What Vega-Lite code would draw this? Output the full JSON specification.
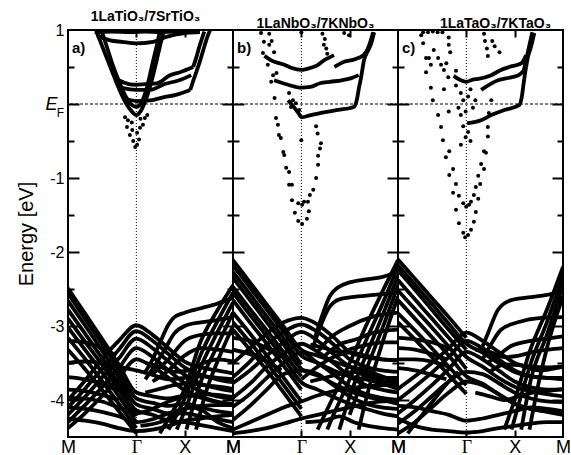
{
"$schema":"https://vega.github.io/schema/vega-lite/v6.json",
"padding":{"left":15,"top":9,"right":0,"bottom":0},
"spacing":0,
"bounds":"flush",
"config":{"view":{"stroke":"black","strokeWidth":2},"axis":{"domain":false,"grid":false,"labelFont":"Liberation Sans","titleFont":"Liberation Sans","labelColor":"black","titleColor":"black","tickColor":"black","tickWidth":2},"title":{"font":"Liberation Sans","fontSize":14,"fontWeight":"bold","color":"black","offset":-2,"anchor":"middle"}},
"data":{"values":[
{"p":"a","b":"F1","k":0,"e":-2.49},{"p":"a","b":"F1","k":0.35,"e":-2.83},{"p":"a","b":"F1","k":0.7,"e":-3.17},{"p":"a","b":"F1","k":1.05,"e":-3.52},{"p":"a","b":"F1","k":1.414,"e":-3.9},{"p":"a","b":"F1","k":1.75,"e":-3.95},{"p":"a","b":"F1","k":2.08,"e":-3.98},{"p":"a","b":"F1","k":2.414,"e":-3.94},{"p":"a","b":"F1","k":2.75,"e":-3.96},{"p":"a","b":"F1","k":3.08,"e":-4.02},{"p":"a","b":"F1","k":3.414,"e":-4.06},
{"p":"a","b":"F2","k":0,"e":-2.56},{"p":"a","b":"F2","k":0.35,"e":-2.9},{"p":"a","b":"F2","k":0.7,"e":-3.24},{"p":"a","b":"F2","k":1.05,"e":-3.6},{"p":"a","b":"F2","k":1.414,"e":-3.98},{"p":"a","b":"F2","k":1.75,"e":-4.04},{"p":"a","b":"F2","k":2.08,"e":-4.08},{"p":"a","b":"F2","k":2.414,"e":-4.05},{"p":"a","b":"F2","k":2.75,"e":-4.1},{"p":"a","b":"F2","k":3.08,"e":-4.15},{"p":"a","b":"F2","k":3.414,"e":-4.18},
{"p":"a","b":"F3","k":0,"e":-2.66},{"p":"a","b":"F3","k":0.35,"e":-2.99},{"p":"a","b":"F3","k":0.7,"e":-3.33},{"p":"a","b":"F3","k":1.05,"e":-3.69},{"p":"a","b":"F3","k":1.414,"e":-4.06},{"p":"a","b":"F3","k":1.75,"e":-4.12},{"p":"a","b":"F3","k":2.08,"e":-4.18},{"p":"a","b":"F3","k":2.414,"e":-4.18},{"p":"a","b":"F3","k":2.75,"e":-4.22},{"p":"a","b":"F3","k":3.08,"e":-4.26},{"p":"a","b":"F3","k":3.414,"e":-4.3},
{"p":"a","b":"F4","k":0,"e":-2.78},{"p":"a","b":"F4","k":0.35,"e":-3.1},{"p":"a","b":"F4","k":0.7,"e":-3.43},{"p":"a","b":"F4","k":1.05,"e":-3.78},{"p":"a","b":"F4","k":1.414,"e":-4.14},{"p":"a","b":"F4","k":1.75,"e":-4.2},{"p":"a","b":"F4","k":2.08,"e":-4.28},{"p":"a","b":"F4","k":2.414,"e":-4.3},{"p":"a","b":"F4","k":2.75,"e":-4.34},{"p":"a","b":"F4","k":3.08,"e":-4.38},{"p":"a","b":"F4","k":3.414,"e":-4.42},
{"p":"a","b":"F5","k":0,"e":-2.9},{"p":"a","b":"F5","k":0.35,"e":-3.21},{"p":"a","b":"F5","k":0.7,"e":-3.52},{"p":"a","b":"F5","k":1.05,"e":-3.86},{"p":"a","b":"F5","k":1.414,"e":-4.22},
{"p":"a","b":"F6","k":0,"e":-3.02},{"p":"a","b":"F6","k":0.35,"e":-3.32},{"p":"a","b":"F6","k":0.7,"e":-3.62},{"p":"a","b":"F6","k":1.05,"e":-3.95},{"p":"a","b":"F6","k":1.414,"e":-4.3},
{"p":"a","b":"F7","k":0,"e":-3.16},{"p":"a","b":"F7","k":0.35,"e":-3.44},{"p":"a","b":"F7","k":0.7,"e":-3.74},{"p":"a","b":"F7","k":1.05,"e":-4.05},{"p":"a","b":"F7","k":1.414,"e":-4.38},
{"p":"a","b":"F8","k":0,"e":-3.32},{"p":"a","b":"F8","k":0.35,"e":-3.58},{"p":"a","b":"F8","k":0.7,"e":-3.86},{"p":"a","b":"F8","k":1.05,"e":-4.15},{"p":"a","b":"F8","k":1.414,"e":-4.45},
{"p":"a","b":"P1","k":0,"e":-4.0},{"p":"a","b":"P1","k":0.35,"e":-3.74},{"p":"a","b":"P1","k":0.7,"e":-3.45},{"p":"a","b":"P1","k":1.05,"e":-3.2},{"p":"a","b":"P1","k":1.414,"e":-2.99},{"p":"a","b":"P1","k":1.75,"e":-3.12},{"p":"a","b":"P1","k":2.08,"e":-3.3},{"p":"a","b":"P1","k":2.414,"e":-3.48},{"p":"a","b":"P1","k":2.75,"e":-3.56},{"p":"a","b":"P1","k":3.08,"e":-3.6},{"p":"a","b":"P1","k":3.414,"e":-3.64},
{"p":"a","b":"P2","k":0,"e":-4.1},{"p":"a","b":"P2","k":0.35,"e":-3.85},{"p":"a","b":"P2","k":0.7,"e":-3.58},{"p":"a","b":"P2","k":1.05,"e":-3.32},{"p":"a","b":"P2","k":1.414,"e":-3.07},{"p":"a","b":"P2","k":1.75,"e":-3.2},{"p":"a","b":"P2","k":2.08,"e":-3.38},{"p":"a","b":"P2","k":2.414,"e":-3.56},{"p":"a","b":"P2","k":2.75,"e":-3.66},{"p":"a","b":"P2","k":3.08,"e":-3.72},{"p":"a","b":"P2","k":3.414,"e":-3.76},
{"p":"a","b":"P3","k":0,"e":-4.2},{"p":"a","b":"P3","k":0.35,"e":-3.96},{"p":"a","b":"P3","k":0.7,"e":-3.7},{"p":"a","b":"P3","k":1.05,"e":-3.44},{"p":"a","b":"P3","k":1.414,"e":-3.17},{"p":"a","b":"P3","k":1.75,"e":-3.3},{"p":"a","b":"P3","k":2.08,"e":-3.48},{"p":"a","b":"P3","k":2.414,"e":-3.66},{"p":"a","b":"P3","k":2.75,"e":-3.78},{"p":"a","b":"P3","k":3.08,"e":-3.84},{"p":"a","b":"P3","k":3.414,"e":-3.88},
{"p":"a","b":"P4","k":0,"e":-4.3},{"p":"a","b":"P4","k":0.35,"e":-4.07},{"p":"a","b":"P4","k":0.7,"e":-3.83},{"p":"a","b":"P4","k":1.05,"e":-3.57},{"p":"a","b":"P4","k":1.414,"e":-3.3},{"p":"a","b":"P4","k":1.75,"e":-3.42},{"p":"a","b":"P4","k":2.08,"e":-3.6},{"p":"a","b":"P4","k":2.414,"e":-3.77},{"p":"a","b":"P4","k":2.75,"e":-3.88},{"p":"a","b":"P4","k":3.08,"e":-3.95},{"p":"a","b":"P4","k":3.414,"e":-3.98},
{"p":"a","b":"P5","k":0,"e":-4.38},{"p":"a","b":"P5","k":0.35,"e":-4.18},{"p":"a","b":"P5","k":0.7,"e":-3.95},{"p":"a","b":"P5","k":1.05,"e":-3.7},{"p":"a","b":"P5","k":1.414,"e":-3.45},{"p":"a","b":"P5","k":1.75,"e":-3.55},{"p":"a","b":"P5","k":2.08,"e":-3.7},{"p":"a","b":"P5","k":2.414,"e":-3.87},{"p":"a","b":"P5","k":2.75,"e":-3.97},{"p":"a","b":"P5","k":3.08,"e":-4.03},{"p":"a","b":"P5","k":3.414,"e":-4.06},
{"p":"a","b":"R1","k":1.6,"e":-3.62},{"p":"a","b":"R1","k":1.75,"e":-3.45},{"p":"a","b":"R1","k":1.9,"e":-3.23},{"p":"a","b":"R1","k":2.08,"e":-2.98},{"p":"a","b":"R1","k":2.2,"e":-2.88},{"p":"a","b":"R1","k":2.414,"e":-2.82},{"p":"a","b":"R1","k":2.75,"e":-2.76},{"p":"a","b":"R1","k":3.08,"e":-2.7},{"p":"a","b":"R1","k":3.414,"e":-2.62},
{"p":"a","b":"R2","k":1.6,"e":-3.72},{"p":"a","b":"R2","k":1.75,"e":-3.58},{"p":"a","b":"R2","k":2.0,"e":-3.32},{"p":"a","b":"R2","k":2.2,"e":-3.1},{"p":"a","b":"R2","k":2.414,"e":-3.0},{"p":"a","b":"R2","k":2.75,"e":-2.95},{"p":"a","b":"R2","k":3.08,"e":-2.92},{"p":"a","b":"R2","k":3.414,"e":-2.88},
{"p":"a","b":"R3","k":1.75,"e":-3.65},{"p":"a","b":"R3","k":2.08,"e":-3.45},{"p":"a","b":"R3","k":2.414,"e":-3.2},{"p":"a","b":"R3","k":2.75,"e":-3.12},{"p":"a","b":"R3","k":3.08,"e":-3.1},{"p":"a","b":"R3","k":3.414,"e":-3.1},
{"p":"a","b":"R4","k":1.75,"e":-3.75},{"p":"a","b":"R4","k":2.08,"e":-3.6},{"p":"a","b":"R4","k":2.414,"e":-3.4},{"p":"a","b":"R4","k":2.75,"e":-3.3},{"p":"a","b":"R4","k":3.08,"e":-3.32},{"p":"a","b":"R4","k":3.414,"e":-3.35},
{"p":"a","b":"S1","k":1.9,"e":-4.45},{"p":"a","b":"S1","k":2.08,"e":-4.25},{"p":"a","b":"S1","k":2.414,"e":-3.85},{"p":"a","b":"S1","k":2.75,"e":-3.2},{"p":"a","b":"S1","k":3.08,"e":-2.8},{"p":"a","b":"S1","k":3.414,"e":-2.45},
{"p":"a","b":"S2","k":2.08,"e":-4.4},{"p":"a","b":"S2","k":2.414,"e":-3.98},{"p":"a","b":"S2","k":2.75,"e":-3.38},{"p":"a","b":"S2","k":3.08,"e":-2.95},{"p":"a","b":"S2","k":3.414,"e":-2.55},
{"p":"a","b":"S3","k":2.25,"e":-4.4},{"p":"a","b":"S3","k":2.414,"e":-4.15},{"p":"a","b":"S3","k":2.75,"e":-3.55},{"p":"a","b":"S3","k":3.08,"e":-3.1},{"p":"a","b":"S3","k":3.414,"e":-2.68},
{"p":"a","b":"S4","k":2.45,"e":-4.4},{"p":"a","b":"S4","k":2.75,"e":-3.75},{"p":"a","b":"S4","k":3.08,"e":-3.28},{"p":"a","b":"S4","k":3.414,"e":-2.82},
{"p":"a","b":"S5","k":2.65,"e":-4.4},{"p":"a","b":"S5","k":2.85,"e":-3.9},{"p":"a","b":"S5","k":3.08,"e":-3.5},{"p":"a","b":"S5","k":3.414,"e":-3.0},
{"p":"a","b":"B1","k":0,"e":-3.97},{"p":"a","b":"B1","k":0.35,"e":-3.98},{"p":"a","b":"B1","k":0.7,"e":-4.02},{"p":"a","b":"B1","k":1.05,"e":-4.1},{"p":"a","b":"B1","k":1.414,"e":-4.18},{"p":"a","b":"B1","k":1.75,"e":-4.12},{"p":"a","b":"B1","k":2.08,"e":-4.02},{"p":"a","b":"B1","k":2.414,"e":-3.95},{"p":"a","b":"B1","k":2.75,"e":-3.92},{"p":"a","b":"B1","k":3.08,"e":-3.93},{"p":"a","b":"B1","k":3.414,"e":-3.96},
{"p":"a","b":"B2","k":0,"e":-4.1},{"p":"a","b":"B2","k":0.35,"e":-4.12},{"p":"a","b":"B2","k":0.7,"e":-4.16},{"p":"a","b":"B2","k":1.05,"e":-4.22},{"p":"a","b":"B2","k":1.414,"e":-4.3},{"p":"a","b":"B2","k":1.75,"e":-4.26},{"p":"a","b":"B2","k":2.08,"e":-4.18},{"p":"a","b":"B2","k":2.414,"e":-4.12},{"p":"a","b":"B2","k":2.75,"e":-4.08},{"p":"a","b":"B2","k":3.08,"e":-4.07},{"p":"a","b":"B2","k":3.414,"e":-4.07},
{"p":"a","b":"B3","k":0,"e":-4.25},{"p":"a","b":"B3","k":0.35,"e":-4.28},{"p":"a","b":"B3","k":0.7,"e":-4.32},{"p":"a","b":"B3","k":1.05,"e":-4.38},{"p":"a","b":"B3","k":1.414,"e":-4.42},{"p":"a","b":"B3","k":1.75,"e":-4.4},{"p":"a","b":"B3","k":2.08,"e":-4.35},{"p":"a","b":"B3","k":2.414,"e":-4.28},{"p":"a","b":"B3","k":2.75,"e":-4.25},{"p":"a","b":"B3","k":3.08,"e":-4.22},{"p":"a","b":"B3","k":3.414,"e":-4.2},
{"p":"a","b":"Q1","k":0,"e":-3.5},{"p":"a","b":"Q1","k":0.35,"e":-3.48},{"p":"a","b":"Q1","k":0.7,"e":-3.5},{"p":"a","b":"Q1","k":1.05,"e":-3.55},{"p":"a","b":"Q1","k":1.414,"e":-3.6},{"p":"a","b":"Q1","k":1.75,"e":-3.66},{"p":"a","b":"Q1","k":2.08,"e":-3.72},{"p":"a","b":"Q1","k":2.414,"e":-3.7},{"p":"a","b":"Q1","k":2.75,"e":-3.68},{"p":"a","b":"Q1","k":3.08,"e":-3.7},{"p":"a","b":"Q1","k":3.414,"e":-3.72},
{"p":"a","b":"Q2","k":0,"e":-3.69},{"p":"a","b":"Q2","k":0.35,"e":-3.72},{"p":"a","b":"Q2","k":0.7,"e":-3.78},{"p":"a","b":"Q2","k":1.05,"e":-3.88},
{"p":"a","b":"Q3","k":0,"e":-3.86},{"p":"a","b":"Q3","k":0.35,"e":-3.88},{"p":"a","b":"Q3","k":0.7,"e":-3.93},{"p":"a","b":"Q3","k":1.05,"e":-4.0},
{"p":"a","b":"W1","k":1.6,"e":-3.5},{"p":"a","b":"W1","k":1.9,"e":-3.55},{"p":"a","b":"W1","k":2.2,"e":-3.62},{"p":"a","b":"W1","k":2.5,"e":-3.6},{"p":"a","b":"W1","k":2.8,"e":-3.5},{"p":"a","b":"W1","k":3.1,"e":-3.45},{"p":"a","b":"W1","k":3.414,"e":-3.48},
{"p":"a","b":"W2","k":1.6,"e":-3.9},{"p":"a","b":"W2","k":1.9,"e":-3.85},{"p":"a","b":"W2","k":2.2,"e":-3.8},{"p":"a","b":"W2","k":2.5,"e":-3.78},{"p":"a","b":"W2","k":2.8,"e":-3.8},{"p":"a","b":"W2","k":3.1,"e":-3.82},{"p":"a","b":"W2","k":3.414,"e":-3.85},
{"p":"a","b":"W3","k":1.5,"e":-4.35},{"p":"a","b":"W3","k":1.9,"e":-4.3},{"p":"a","b":"W3","k":2.2,"e":-4.22},{"p":"a","b":"W3","k":2.5,"e":-4.1},{"p":"a","b":"W3","k":2.8,"e":-4.15},{"p":"a","b":"W3","k":3.1,"e":-4.3},{"p":"a","b":"W3","k":3.414,"e":-4.38},
{"p":"a","b":"L1","k":0,"e":-3.2},{"p":"a","b":"L1","k":0.35,"e":-3.22},{"p":"a","b":"L1","k":0.7,"e":-3.3},{"p":"a","b":"L1","k":1.0,"e":-3.4},
{"p":"a","b":"C0","k":0.55,"e":0.97},{"p":"a","b":"C0","k":0.9,"e":0.98},{"p":"a","b":"C0","k":1.3,"e":0.97},{"p":"a","b":"C0","k":1.6,"e":0.98},{"p":"a","b":"C0","k":1.9,"e":0.97},{"p":"a","b":"C0","k":2.2,"e":0.98},{"p":"a","b":"C0","k":2.5,"e":0.98},
{"p":"a","b":"C1","k":0.6,"e":0.93},{"p":"a","b":"C1","k":0.87,"e":0.86},{"p":"a","b":"C1","k":1.12,"e":0.84},{"p":"a","b":"C1","k":1.414,"e":0.82},{"p":"a","b":"C1","k":1.76,"e":0.84},{"p":"a","b":"C1","k":2.05,"e":0.91},{"p":"a","b":"C1","k":2.46,"e":0.96},{"p":"a","b":"C1","k":2.73,"e":0.97},
{"p":"a","b":"V1","k":0.6,"e":0.96},{"p":"a","b":"V1","k":0.72,"e":0.76},{"p":"a","b":"V1","k":0.84,"e":0.56},{"p":"a","b":"V1","k":0.96,"e":0.36},{"p":"a","b":"V1","k":1.08,"e":0.17},{"p":"a","b":"V1","k":1.2,"e":0.01},{"p":"a","b":"V1","k":1.32,"e":-0.1},{"p":"a","b":"V1","k":1.414,"e":-0.15},{"p":"a","b":"V1","k":1.5,"e":-0.1},{"p":"a","b":"V1","k":1.6,"e":0.04},{"p":"a","b":"V1","k":1.7,"e":0.24},{"p":"a","b":"V1","k":1.78,"e":0.44},{"p":"a","b":"V1","k":1.86,"e":0.66},{"p":"a","b":"V1","k":1.94,"e":0.88},{"p":"a","b":"V1","k":1.99,"e":1.0},
{"p":"a","b":"V2","k":0.7,"e":0.98},{"p":"a","b":"V2","k":0.82,"e":0.74},{"p":"a","b":"V2","k":0.94,"e":0.5},{"p":"a","b":"V2","k":1.06,"e":0.3},{"p":"a","b":"V2","k":1.18,"e":0.12},{"p":"a","b":"V2","k":1.3,"e":0.0},{"p":"a","b":"V2","k":1.414,"e":-0.04},{"p":"a","b":"V2","k":1.52,"e":0.02},{"p":"a","b":"V2","k":1.6,"e":0.15},{"p":"a","b":"V2","k":1.68,"e":0.35},{"p":"a","b":"V2","k":1.76,"e":0.58},{"p":"a","b":"V2","k":1.84,"e":0.8},{"p":"a","b":"V2","k":1.9,"e":0.98},
{"p":"a","b":"C4","k":1.05,"e":0.32},{"p":"a","b":"C4","k":1.25,"e":0.27},{"p":"a","b":"C4","k":1.414,"e":0.26},{"p":"a","b":"C4","k":1.6,"e":0.27},{"p":"a","b":"C4","k":1.84,"e":0.28},{"p":"a","b":"C4","k":2.11,"e":0.39},{"p":"a","b":"C4","k":2.32,"e":0.43},{"p":"a","b":"C4","k":2.59,"e":0.5},
{"p":"a","b":"C5","k":1.1,"e":0.22},{"p":"a","b":"C5","k":1.414,"e":0.19},{"p":"a","b":"C5","k":1.7,"e":0.19},{"p":"a","b":"C5","k":2.0,"e":0.27},{"p":"a","b":"C5","k":2.3,"e":0.32},{"p":"a","b":"C5","k":2.55,"e":0.39},
{"p":"a","b":"C6","k":1.15,"e":0.08},{"p":"a","b":"C6","k":1.414,"e":0.04},{"p":"a","b":"C6","k":1.7,"e":0.05},{"p":"a","b":"C6","k":1.97,"e":0.09},{"p":"a","b":"C6","k":2.21,"e":0.12},{"p":"a","b":"C6","k":2.53,"e":0.19},
{"p":"a","b":"C7","k":2.53,"e":0.19},{"p":"a","b":"C7","k":2.6,"e":0.33},{"p":"a","b":"C7","k":2.67,"e":0.46},{"p":"a","b":"C7","k":2.74,"e":0.6},{"p":"a","b":"C7","k":2.8,"e":0.73},{"p":"a","b":"C7","k":2.88,"e":0.9},{"p":"a","b":"C7","k":2.94,"e":1.0},
{"p":"a","b":"C8","k":2.59,"e":0.5},{"p":"a","b":"C8","k":2.66,"e":0.64},{"p":"a","b":"C8","k":2.72,"e":0.78},{"p":"a","b":"C8","k":2.78,"e":0.9},{"p":"a","b":"C8","k":2.82,"e":0.98},
{"p":"a","b":"d","k":1.18,"e":-0.18},{"p":"a","b":"d","k":1.24,"e":-0.22},{"p":"a","b":"d","k":1.22,"e":-0.31},{"p":"a","b":"d","k":1.33,"e":-0.35},{"p":"a","b":"d","k":1.28,"e":-0.42},{"p":"a","b":"d","k":1.43,"e":-0.39},{"p":"a","b":"d","k":1.49,"e":-0.32},{"p":"a","b":"d","k":1.55,"e":-0.28},{"p":"a","b":"d","k":1.59,"e":-0.19},{"p":"a","b":"d","k":1.64,"e":-0.15},{"p":"a","b":"d","k":1.43,"e":-0.55},{"p":"a","b":"d","k":1.39,"e":-0.58},{"p":"a","b":"d","k":1.35,"e":-0.5},{"p":"a","b":"d","k":1.47,"e":-0.48},{"p":"a","b":"d","k":1.32,"e":-0.25},{"p":"a","b":"d","k":1.5,"e":-0.2},
{"p":"b","b":"F1","k":0,"e":-2.11},{"p":"b","b":"F1","k":0.35,"e":-2.41},{"p":"b","b":"F1","k":0.7,"e":-2.71},{"p":"b","b":"F1","k":1.05,"e":-3.01},{"p":"b","b":"F1","k":1.414,"e":-3.32},{"p":"b","b":"F1","k":1.75,"e":-3.4},{"p":"b","b":"F1","k":2.08,"e":-3.48},{"p":"b","b":"F1","k":2.414,"e":-3.55},{"p":"b","b":"F1","k":2.75,"e":-3.6},{"p":"b","b":"F1","k":3.08,"e":-3.68},{"p":"b","b":"F1","k":3.414,"e":-3.75},
{"p":"b","b":"F2","k":0,"e":-2.18},{"p":"b","b":"F2","k":0.35,"e":-2.48},{"p":"b","b":"F2","k":0.7,"e":-2.78},{"p":"b","b":"F2","k":1.05,"e":-3.08},{"p":"b","b":"F2","k":1.414,"e":-3.4},{"p":"b","b":"F2","k":1.75,"e":-3.5},{"p":"b","b":"F2","k":2.08,"e":-3.6},{"p":"b","b":"F2","k":2.414,"e":-3.68},{"p":"b","b":"F2","k":2.75,"e":-3.72},{"p":"b","b":"F2","k":3.08,"e":-3.78},{"p":"b","b":"F2","k":3.414,"e":-3.85},
{"p":"b","b":"F3","k":0,"e":-2.27},{"p":"b","b":"F3","k":0.35,"e":-2.57},{"p":"b","b":"F3","k":0.7,"e":-2.87},{"p":"b","b":"F3","k":1.05,"e":-3.17},{"p":"b","b":"F3","k":1.414,"e":-3.52},
{"p":"b","b":"F4","k":0,"e":-2.35},{"p":"b","b":"F4","k":0.35,"e":-2.65},{"p":"b","b":"F4","k":0.7,"e":-2.95},{"p":"b","b":"F4","k":1.05,"e":-3.25},{"p":"b","b":"F4","k":1.414,"e":-3.58},{"p":"b","b":"F4","k":1.75,"e":-3.67},{"p":"b","b":"F4","k":2.08,"e":-3.78},{"p":"b","b":"F4","k":2.414,"e":-3.88},{"p":"b","b":"F4","k":2.75,"e":-3.95},{"p":"b","b":"F4","k":3.08,"e":-4.0},{"p":"b","b":"F4","k":3.414,"e":-4.05},
{"p":"b","b":"F5","k":0,"e":-2.47},{"p":"b","b":"F5","k":0.35,"e":-2.77},{"p":"b","b":"F5","k":0.7,"e":-3.06},{"p":"b","b":"F5","k":1.05,"e":-3.36},{"p":"b","b":"F5","k":1.414,"e":-3.68},
{"p":"b","b":"F6","k":0,"e":-2.55},{"p":"b","b":"F6","k":0.35,"e":-2.85},{"p":"b","b":"F6","k":0.7,"e":-3.14},{"p":"b","b":"F6","k":1.05,"e":-3.44},{"p":"b","b":"F6","k":1.414,"e":-3.76},{"p":"b","b":"F6","k":1.75,"e":-3.86},{"p":"b","b":"F6","k":2.08,"e":-3.96},{"p":"b","b":"F6","k":2.414,"e":-4.05},{"p":"b","b":"F6","k":2.75,"e":-4.12},{"p":"b","b":"F6","k":3.08,"e":-4.18},{"p":"b","b":"F6","k":3.414,"e":-4.22},
{"p":"b","b":"F7","k":0,"e":-2.65},{"p":"b","b":"F7","k":0.35,"e":-2.95},{"p":"b","b":"F7","k":0.7,"e":-3.24},{"p":"b","b":"F7","k":1.05,"e":-3.54},{"p":"b","b":"F7","k":1.414,"e":-3.86},
{"p":"b","b":"F8","k":0,"e":-2.82},{"p":"b","b":"F8","k":0.35,"e":-3.1},{"p":"b","b":"F8","k":0.7,"e":-3.4},{"p":"b","b":"F8","k":1.05,"e":-3.7},{"p":"b","b":"F8","k":1.414,"e":-4.02},
{"p":"b","b":"F9","k":0,"e":-2.95},{"p":"b","b":"F9","k":0.35,"e":-3.22},{"p":"b","b":"F9","k":0.7,"e":-3.5},{"p":"b","b":"F9","k":1.05,"e":-3.8},{"p":"b","b":"F9","k":1.414,"e":-4.12},
{"p":"b","b":"F10","k":0,"e":-3.05},{"p":"b","b":"F10","k":0.35,"e":-3.32},{"p":"b","b":"F10","k":0.7,"e":-3.6},{"p":"b","b":"F10","k":1.05,"e":-3.9},{"p":"b","b":"F10","k":1.414,"e":-4.22},
{"p":"b","b":"P1","k":0,"e":-3.5},{"p":"b","b":"P1","k":0.35,"e":-3.3},{"p":"b","b":"P1","k":0.7,"e":-3.1},{"p":"b","b":"P1","k":1.05,"e":-2.95},{"p":"b","b":"P1","k":1.414,"e":-2.89},{"p":"b","b":"P1","k":1.75,"e":-2.98},{"p":"b","b":"P1","k":2.08,"e":-3.15},{"p":"b","b":"P1","k":2.414,"e":-3.35},{"p":"b","b":"P1","k":2.75,"e":-3.42},{"p":"b","b":"P1","k":3.08,"e":-3.45},{"p":"b","b":"P1","k":3.414,"e":-3.46},
{"p":"b","b":"P2","k":0,"e":-3.69},{"p":"b","b":"P2","k":0.35,"e":-3.48},{"p":"b","b":"P2","k":0.7,"e":-3.25},{"p":"b","b":"P2","k":1.05,"e":-3.08},{"p":"b","b":"P2","k":1.414,"e":-2.98},{"p":"b","b":"P2","k":1.75,"e":-3.08},{"p":"b","b":"P2","k":2.08,"e":-3.25},{"p":"b","b":"P2","k":2.414,"e":-3.45},{"p":"b","b":"P2","k":2.75,"e":-3.55},{"p":"b","b":"P2","k":3.08,"e":-3.6},{"p":"b","b":"P2","k":3.414,"e":-3.62},
{"p":"b","b":"P3","k":0,"e":-3.77},{"p":"b","b":"P3","k":0.35,"e":-3.6},{"p":"b","b":"P3","k":0.7,"e":-3.4},{"p":"b","b":"P3","k":1.05,"e":-3.22},{"p":"b","b":"P3","k":1.414,"e":-3.08},{"p":"b","b":"P3","k":1.75,"e":-3.2},{"p":"b","b":"P3","k":2.08,"e":-3.38},{"p":"b","b":"P3","k":2.414,"e":-3.55},{"p":"b","b":"P3","k":2.75,"e":-3.68},{"p":"b","b":"P3","k":3.08,"e":-3.74},{"p":"b","b":"P3","k":3.414,"e":-3.77},
{"p":"b","b":"P4","k":0,"e":-3.97},{"p":"b","b":"P4","k":0.35,"e":-3.78},{"p":"b","b":"P4","k":0.7,"e":-3.55},{"p":"b","b":"P4","k":1.05,"e":-3.37},{"p":"b","b":"P4","k":1.414,"e":-3.24},{"p":"b","b":"P4","k":1.75,"e":-3.35},{"p":"b","b":"P4","k":2.08,"e":-3.5},{"p":"b","b":"P4","k":2.414,"e":-3.68},{"p":"b","b":"P4","k":2.75,"e":-3.8},{"p":"b","b":"P4","k":3.08,"e":-3.86},{"p":"b","b":"P4","k":3.414,"e":-3.9},
{"p":"b","b":"P5","k":0,"e":-4.09},{"p":"b","b":"P5","k":0.35,"e":-3.92},{"p":"b","b":"P5","k":0.7,"e":-3.7},{"p":"b","b":"P5","k":1.05,"e":-3.5},{"p":"b","b":"P5","k":1.414,"e":-3.36},{"p":"b","b":"P5","k":1.75,"e":-3.5},{"p":"b","b":"P5","k":2.08,"e":-3.65},{"p":"b","b":"P5","k":2.414,"e":-3.82},{"p":"b","b":"P5","k":2.75,"e":-3.92},{"p":"b","b":"P5","k":3.08,"e":-3.97},{"p":"b","b":"P5","k":3.414,"e":-4.0},
{"p":"b","b":"P6","k":0,"e":-4.27},{"p":"b","b":"P6","k":0.35,"e":-4.08},{"p":"b","b":"P6","k":0.7,"e":-3.86},{"p":"b","b":"P6","k":1.05,"e":-3.65},{"p":"b","b":"P6","k":1.414,"e":-3.6},{"p":"b","b":"P6","k":1.75,"e":-3.65},{"p":"b","b":"P6","k":2.08,"e":-3.8},{"p":"b","b":"P6","k":2.414,"e":-3.95},{"p":"b","b":"P6","k":2.75,"e":-4.05},{"p":"b","b":"P6","k":3.08,"e":-4.1},{"p":"b","b":"P6","k":3.414,"e":-4.12},
{"p":"b","b":"R1","k":1.7,"e":-3.15},{"p":"b","b":"R1","k":1.85,"e":-2.85},{"p":"b","b":"R1","k":2.0,"e":-2.6},{"p":"b","b":"R1","k":2.17,"e":-2.48},{"p":"b","b":"R1","k":2.414,"e":-2.41},{"p":"b","b":"R1","k":2.75,"e":-2.37},{"p":"b","b":"R1","k":3.08,"e":-2.34},{"p":"b","b":"R1","k":3.414,"e":-2.26},
{"p":"b","b":"R2","k":1.65,"e":-3.3},{"p":"b","b":"R2","k":1.8,"e":-3.02},{"p":"b","b":"R2","k":1.98,"e":-2.76},{"p":"b","b":"R2","k":2.2,"e":-2.64},{"p":"b","b":"R2","k":2.45,"e":-2.61},{"p":"b","b":"R2","k":2.92,"e":-2.58},{"p":"b","b":"R2","k":3.414,"e":-2.55},
{"p":"b","b":"R3","k":1.75,"e":-3.35},{"p":"b","b":"R3","k":2.03,"e":-3.15},{"p":"b","b":"R3","k":2.38,"e":-3.01},{"p":"b","b":"R3","k":2.86,"e":-2.88},{"p":"b","b":"R3","k":3.414,"e":-2.82},
{"p":"b","b":"R4","k":1.9,"e":-3.4},{"p":"b","b":"R4","k":2.2,"e":-3.25},{"p":"b","b":"R4","k":2.5,"e":-3.19},{"p":"b","b":"R4","k":2.92,"e":-3.09},{"p":"b","b":"R4","k":3.414,"e":-3.05},
{"p":"b","b":"S1","k":1.75,"e":-4.4},{"p":"b","b":"S1","k":2.08,"e":-3.95},{"p":"b","b":"S1","k":2.414,"e":-3.5},{"p":"b","b":"S1","k":2.75,"e":-3.0},{"p":"b","b":"S1","k":3.08,"e":-2.55},{"p":"b","b":"S1","k":3.414,"e":-2.11},
{"p":"b","b":"S2","k":1.95,"e":-4.4},{"p":"b","b":"S2","k":2.08,"e":-4.2},{"p":"b","b":"S2","k":2.414,"e":-3.72},{"p":"b","b":"S2","k":2.75,"e":-3.2},{"p":"b","b":"S2","k":3.08,"e":-2.72},{"p":"b","b":"S2","k":3.414,"e":-2.2},
{"p":"b","b":"S3","k":2.2,"e":-4.4},{"p":"b","b":"S3","k":2.414,"e":-3.95},{"p":"b","b":"S3","k":2.75,"e":-3.4},{"p":"b","b":"S3","k":3.08,"e":-2.88},{"p":"b","b":"S3","k":3.414,"e":-2.32},
{"p":"b","b":"S4","k":2.414,"e":-4.2},{"p":"b","b":"S4","k":2.75,"e":-3.6},{"p":"b","b":"S4","k":3.08,"e":-3.05},{"p":"b","b":"S4","k":3.414,"e":-2.45},
{"p":"b","b":"S5","k":2.6,"e":-4.4},{"p":"b","b":"S5","k":2.85,"e":-3.75},{"p":"b","b":"S5","k":3.08,"e":-3.25},{"p":"b","b":"S5","k":3.414,"e":-2.6},
{"p":"b","b":"B1","k":1.414,"e":-3.72},{"p":"b","b":"B1","k":1.75,"e":-3.55},{"p":"b","b":"B1","k":2.08,"e":-3.42},{"p":"b","b":"B1","k":2.414,"e":-3.36},{"p":"b","b":"B1","k":2.75,"e":-3.4},{"p":"b","b":"B1","k":3.08,"e":-3.45},{"p":"b","b":"B1","k":3.414,"e":-3.46},
{"p":"b","b":"B2","k":0,"e":-4.4},{"p":"b","b":"B2","k":0.35,"e":-4.3},{"p":"b","b":"B2","k":0.7,"e":-4.2},{"p":"b","b":"B2","k":1.05,"e":-4.1},{"p":"b","b":"B2","k":1.414,"e":-4.02},{"p":"b","b":"B2","k":1.75,"e":-3.94},{"p":"b","b":"B2","k":2.08,"e":-3.88},{"p":"b","b":"B2","k":2.414,"e":-3.84},{"p":"b","b":"B2","k":2.75,"e":-3.82},{"p":"b","b":"B2","k":3.08,"e":-3.8},{"p":"b","b":"B2","k":3.414,"e":-3.8},
{"p":"b","b":"B3","k":0,"e":-4.45},{"p":"b","b":"B3","k":0.35,"e":-4.42},{"p":"b","b":"B3","k":0.7,"e":-4.38},{"p":"b","b":"B3","k":1.05,"e":-4.32},{"p":"b","b":"B3","k":1.414,"e":-4.25},{"p":"b","b":"B3","k":1.75,"e":-4.2},{"p":"b","b":"B3","k":2.08,"e":-4.15},{"p":"b","b":"B3","k":2.414,"e":-4.1},{"p":"b","b":"B3","k":2.75,"e":-4.05},{"p":"b","b":"B3","k":3.08,"e":-4.02},{"p":"b","b":"B3","k":3.414,"e":-4.0},
{"p":"b","b":"W1","k":1.6,"e":-3.25},{"p":"b","b":"W1","k":1.9,"e":-3.3},{"p":"b","b":"W1","k":2.2,"e":-3.35},{"p":"b","b":"W1","k":2.5,"e":-3.3},{"p":"b","b":"W1","k":2.8,"e":-3.25},{"p":"b","b":"W1","k":3.1,"e":-3.22},{"p":"b","b":"W1","k":3.414,"e":-3.22},
{"p":"b","b":"W2","k":1.6,"e":-3.75},{"p":"b","b":"W2","k":1.9,"e":-3.7},{"p":"b","b":"W2","k":2.2,"e":-3.65},{"p":"b","b":"W2","k":2.5,"e":-3.62},{"p":"b","b":"W2","k":2.8,"e":-3.65},{"p":"b","b":"W2","k":3.1,"e":-3.7},{"p":"b","b":"W2","k":3.414,"e":-3.7},
{"p":"b","b":"W3","k":1.5,"e":-4.3},{"p":"b","b":"W3","k":1.9,"e":-4.28},{"p":"b","b":"W3","k":2.2,"e":-4.22},{"p":"b","b":"W3","k":2.5,"e":-4.3},{"p":"b","b":"W3","k":2.8,"e":-4.35},{"p":"b","b":"W3","k":3.1,"e":-4.38},{"p":"b","b":"W3","k":3.414,"e":-4.4},
{"p":"b","b":"L1","k":0,"e":-3.16},{"p":"b","b":"L1","k":0.35,"e":-3.2},{"p":"b","b":"L1","k":0.7,"e":-3.3},{"p":"b","b":"L1","k":1.0,"e":-3.42},
{"p":"b","b":"L2","k":0,"e":-3.32},{"p":"b","b":"L2","k":0.35,"e":-3.38},{"p":"b","b":"L2","k":0.7,"e":-3.48},{"p":"b","b":"L2","k":1.0,"e":-3.6},
{"p":"b","b":"C1","k":0.65,"e":0.65},{"p":"b","b":"C1","k":0.79,"e":0.59},{"p":"b","b":"C1","k":1.06,"e":0.53},{"p":"b","b":"C1","k":1.2,"e":0.49},{"p":"b","b":"C1","k":1.414,"e":0.46},{"p":"b","b":"C1","k":1.61,"e":0.49},{"p":"b","b":"C1","k":1.76,"e":0.53},{"p":"b","b":"C1","k":1.88,"e":0.59},{"p":"b","b":"C1","k":2.0,"e":0.63},{"p":"b","b":"C1","k":2.09,"e":0.66},
{"p":"b","b":"C2","k":2.1,"e":0.5},{"p":"b","b":"C2","k":2.3,"e":0.57},{"p":"b","b":"C2","k":2.5,"e":0.6},{"p":"b","b":"C2","k":2.7,"e":0.66},{"p":"b","b":"C2","k":2.82,"e":0.8},{"p":"b","b":"C2","k":2.9,"e":0.97},
{"p":"b","b":"C3","k":0.85,"e":0.32},{"p":"b","b":"C3","k":1.14,"e":0.26},{"p":"b","b":"C3","k":1.414,"e":0.22},{"p":"b","b":"C3","k":1.6,"e":0.23},{"p":"b","b":"C3","k":1.8,"e":0.28},{"p":"b","b":"C3","k":2.0,"e":0.3},{"p":"b","b":"C3","k":2.25,"e":0.32},{"p":"b","b":"C3","k":2.45,"e":0.35},{"p":"b","b":"C3","k":2.6,"e":0.39},
{"p":"b","b":"C4","k":1.14,"e":0.05},{"p":"b","b":"C4","k":1.35,"e":-0.12},{"p":"b","b":"C4","k":1.414,"e":-0.18},{"p":"b","b":"C4","k":1.61,"e":-0.15},{"p":"b","b":"C4","k":1.82,"e":-0.12},{"p":"b","b":"C4","k":2.17,"e":-0.08},{"p":"b","b":"C4","k":2.5,"e":-0.04},{"p":"b","b":"C4","k":2.56,"e":0.05},{"p":"b","b":"C4","k":2.61,"e":0.23},{"p":"b","b":"C4","k":2.65,"e":0.36},{"p":"b","b":"C4","k":2.71,"e":0.59},{"p":"b","b":"C4","k":2.8,"e":0.73},{"p":"b","b":"C4","k":2.86,"e":0.82},{"p":"b","b":"C4","k":2.92,"e":0.97},
{"p":"b","b":"d","k":0.58,"e":0.96},{"p":"b","b":"d","k":0.64,"e":0.84},{"p":"b","b":"d","k":0.62,"e":0.69},{"p":"b","b":"d","k":0.75,"e":0.8},{"p":"b","b":"d","k":0.72,"e":0.53},{"p":"b","b":"d","k":0.83,"e":0.39},{"p":"b","b":"d","k":0.79,"e":0.3},{"p":"b","b":"d","k":0.86,"e":0.08},{"p":"b","b":"d","k":0.89,"e":-0.19},{"p":"b","b":"d","k":0.93,"e":-0.28},{"p":"b","b":"d","k":0.95,"e":-0.42},{"p":"b","b":"d","k":0.99,"e":-0.46},{"p":"b","b":"d","k":1.04,"e":-0.65},{"p":"b","b":"d","k":1.06,"e":-0.69},{"p":"b","b":"d","k":1.1,"e":-0.86},{"p":"b","b":"d","k":1.16,"e":-0.92},{"p":"b","b":"d","k":1.16,"e":-1.09},{"p":"b","b":"d","k":1.22,"e":-1.09},{"p":"b","b":"d","k":1.22,"e":-1.3},{"p":"b","b":"d","k":1.28,"e":-1.47},{"p":"b","b":"d","k":1.35,"e":-1.58},{"p":"b","b":"d","k":1.43,"e":-1.62},{"p":"b","b":"d","k":1.35,"e":-1.34},{"p":"b","b":"d","k":1.43,"e":-1.36},{"p":"b","b":"d","k":1.47,"e":-1.32},{"p":"b","b":"d","k":1.53,"e":-1.55},{"p":"b","b":"d","k":1.57,"e":-1.45},{"p":"b","b":"d","k":1.55,"e":-1.32},{"p":"b","b":"d","k":1.59,"e":-1.23},{"p":"b","b":"d","k":1.66,"e":-1.16},{"p":"b","b":"d","k":1.72,"e":-1.0},{"p":"b","b":"d","k":1.76,"e":-0.82},{"p":"b","b":"d","k":1.76,"e":-0.7},{"p":"b","b":"d","k":1.8,"e":-0.6},{"p":"b","b":"d","k":1.82,"e":-0.53},{"p":"b","b":"d","k":1.414,"e":-0.49},{"p":"b","b":"d","k":1.75,"e":-0.4},{"p":"b","b":"d","k":1.72,"e":-0.3},{"p":"b","b":"d","k":1.16,"e":0.15},{"p":"b","b":"d","k":1.24,"e":0.05},{"p":"b","b":"d","k":1.3,"e":0.01},{"p":"b","b":"d","k":1.2,"e":-0.04},{"p":"b","b":"d","k":1.37,"e":-0.08},{"p":"b","b":"d","k":1.414,"e":0.97},{"p":"b","b":"d","k":1.85,"e":0.95},{"p":"b","b":"d","k":1.9,"e":0.88},{"p":"b","b":"d","k":1.88,"e":0.8},{"p":"b","b":"d","k":1.93,"e":0.75},{"p":"b","b":"d","k":1.95,"e":0.68},{"p":"b","b":"d","k":0.75,"e":0.95},{"p":"b","b":"d","k":0.8,"e":0.85},{"p":"b","b":"d","k":0.85,"e":0.7},{"p":"b","b":"d","k":0.9,"e":0.42},{"p":"b","b":"d","k":2.3,"e":0.96},{"p":"b","b":"d","k":2.4,"e":0.93},
{"p":"c","b":"F1","k":0,"e":-2.1},{"p":"c","b":"F1","k":0.35,"e":-2.36},{"p":"c","b":"F1","k":0.7,"e":-2.62},{"p":"c","b":"F1","k":1.05,"e":-2.88},{"p":"c","b":"F1","k":1.414,"e":-3.16},
{"p":"c","b":"F2","k":0,"e":-2.18},{"p":"c","b":"F2","k":0.35,"e":-2.44},{"p":"c","b":"F2","k":0.7,"e":-2.7},{"p":"c","b":"F2","k":1.05,"e":-2.97},{"p":"c","b":"F2","k":1.414,"e":-3.24},{"p":"c","b":"F2","k":1.75,"e":-3.36},{"p":"c","b":"F2","k":2.08,"e":-3.5},{"p":"c","b":"F2","k":2.414,"e":-3.62},{"p":"c","b":"F2","k":2.75,"e":-3.68},{"p":"c","b":"F2","k":3.08,"e":-3.7},{"p":"c","b":"F2","k":3.414,"e":-3.72},
{"p":"c","b":"F3","k":0,"e":-2.25},{"p":"c","b":"F3","k":0.35,"e":-2.51},{"p":"c","b":"F3","k":0.7,"e":-2.78},{"p":"c","b":"F3","k":1.05,"e":-3.05},{"p":"c","b":"F3","k":1.414,"e":-3.32},
{"p":"c","b":"F4","k":0,"e":-2.38},{"p":"c","b":"F4","k":0.35,"e":-2.64},{"p":"c","b":"F4","k":0.7,"e":-2.9},{"p":"c","b":"F4","k":1.05,"e":-3.16},{"p":"c","b":"F4","k":1.414,"e":-3.42},{"p":"c","b":"F4","k":1.75,"e":-3.55},{"p":"c","b":"F4","k":2.08,"e":-3.7},{"p":"c","b":"F4","k":2.414,"e":-3.82},{"p":"c","b":"F4","k":2.75,"e":-3.88},{"p":"c","b":"F4","k":3.08,"e":-3.92},{"p":"c","b":"F4","k":3.414,"e":-3.95},
{"p":"c","b":"F5","k":0,"e":-2.52},{"p":"c","b":"F5","k":0.35,"e":-2.77},{"p":"c","b":"F5","k":0.7,"e":-3.02},{"p":"c","b":"F5","k":1.05,"e":-3.28},{"p":"c","b":"F5","k":1.414,"e":-3.58},
{"p":"c","b":"F6","k":0,"e":-2.65},{"p":"c","b":"F6","k":0.35,"e":-2.9},{"p":"c","b":"F6","k":0.7,"e":-3.15},{"p":"c","b":"F6","k":1.05,"e":-3.4},{"p":"c","b":"F6","k":1.414,"e":-3.68},{"p":"c","b":"F6","k":1.75,"e":-3.78},{"p":"c","b":"F6","k":2.08,"e":-3.92},{"p":"c","b":"F6","k":2.414,"e":-4.05},{"p":"c","b":"F6","k":2.75,"e":-4.12},{"p":"c","b":"F6","k":3.08,"e":-4.16},{"p":"c","b":"F6","k":3.414,"e":-4.2},
{"p":"c","b":"F7","k":0,"e":-2.83},{"p":"c","b":"F7","k":0.35,"e":-3.06},{"p":"c","b":"F7","k":0.7,"e":-3.3},{"p":"c","b":"F7","k":1.05,"e":-3.55},{"p":"c","b":"F7","k":1.414,"e":-3.8},
{"p":"c","b":"F8","k":0,"e":-2.95},{"p":"c","b":"F8","k":0.35,"e":-3.18},{"p":"c","b":"F8","k":0.7,"e":-3.42},{"p":"c","b":"F8","k":1.05,"e":-3.66},{"p":"c","b":"F8","k":1.414,"e":-3.92},
{"p":"c","b":"P1","k":0,"e":-3.85},{"p":"c","b":"P1","k":0.35,"e":-3.68},{"p":"c","b":"P1","k":0.7,"e":-3.5},{"p":"c","b":"P1","k":1.05,"e":-3.3},{"p":"c","b":"P1","k":1.414,"e":-3.09},{"p":"c","b":"P1","k":1.75,"e":-3.2},{"p":"c","b":"P1","k":2.08,"e":-3.35},{"p":"c","b":"P1","k":2.414,"e":-3.5},{"p":"c","b":"P1","k":2.75,"e":-3.55},{"p":"c","b":"P1","k":3.08,"e":-3.56},{"p":"c","b":"P1","k":3.414,"e":-3.55},
{"p":"c","b":"P2","k":0,"e":-4.0},{"p":"c","b":"P2","k":0.35,"e":-3.82},{"p":"c","b":"P2","k":0.7,"e":-3.63},{"p":"c","b":"P2","k":1.05,"e":-3.42},{"p":"c","b":"P2","k":1.414,"e":-3.2},{"p":"c","b":"P2","k":1.75,"e":-3.3},{"p":"c","b":"P2","k":2.08,"e":-3.45},{"p":"c","b":"P2","k":2.414,"e":-3.6},{"p":"c","b":"P2","k":2.75,"e":-3.68},{"p":"c","b":"P2","k":3.08,"e":-3.7},{"p":"c","b":"P2","k":3.414,"e":-3.7},
{"p":"c","b":"P3","k":0,"e":-4.18},{"p":"c","b":"P3","k":0.35,"e":-4.0},{"p":"c","b":"P3","k":0.7,"e":-3.8},{"p":"c","b":"P3","k":1.05,"e":-3.58},{"p":"c","b":"P3","k":1.414,"e":-3.35},{"p":"c","b":"P3","k":1.75,"e":-3.45},{"p":"c","b":"P3","k":2.08,"e":-3.6},{"p":"c","b":"P3","k":2.414,"e":-3.75},{"p":"c","b":"P3","k":2.75,"e":-3.83},{"p":"c","b":"P3","k":3.08,"e":-3.86},{"p":"c","b":"P3","k":3.414,"e":-3.86},
{"p":"c","b":"P4","k":0,"e":-4.32},{"p":"c","b":"P4","k":0.35,"e":-4.15},{"p":"c","b":"P4","k":0.7,"e":-3.95},{"p":"c","b":"P4","k":1.05,"e":-3.75},{"p":"c","b":"P4","k":1.414,"e":-3.62},{"p":"c","b":"P4","k":1.75,"e":-3.65},{"p":"c","b":"P4","k":2.08,"e":-3.77},{"p":"c","b":"P4","k":2.414,"e":-3.9},{"p":"c","b":"P4","k":2.75,"e":-3.98},{"p":"c","b":"P4","k":3.08,"e":-4.02},{"p":"c","b":"P4","k":3.414,"e":-4.03},
{"p":"c","b":"P5","k":0,"e":-4.45},{"p":"c","b":"P5","k":0.35,"e":-4.3},{"p":"c","b":"P5","k":0.7,"e":-4.1},{"p":"c","b":"P5","k":1.05,"e":-3.9},{"p":"c","b":"P5","k":1.414,"e":-3.75},{"p":"c","b":"P5","k":1.75,"e":-3.8},{"p":"c","b":"P5","k":2.08,"e":-3.92},{"p":"c","b":"P5","k":2.414,"e":-4.05},{"p":"c","b":"P5","k":2.75,"e":-4.12},{"p":"c","b":"P5","k":3.08,"e":-4.15},{"p":"c","b":"P5","k":3.414,"e":-4.17},
{"p":"c","b":"R1","k":1.7,"e":-3.35},{"p":"c","b":"R1","k":1.86,"e":-3.1},{"p":"c","b":"R1","k":2.07,"e":-2.78},{"p":"c","b":"R1","k":2.34,"e":-2.65},{"p":"c","b":"R1","k":2.75,"e":-2.61},{"p":"c","b":"R1","k":3.08,"e":-2.58},{"p":"c","b":"R1","k":3.414,"e":-2.52},
{"p":"c","b":"R2","k":1.75,"e":-3.45},{"p":"c","b":"R2","k":1.95,"e":-3.22},{"p":"c","b":"R2","k":2.13,"e":-3.05},{"p":"c","b":"R2","k":2.48,"e":-2.95},{"p":"c","b":"R2","k":2.96,"e":-2.89},{"p":"c","b":"R2","k":3.414,"e":-2.88},
{"p":"c","b":"R3","k":1.85,"e":-3.5},{"p":"c","b":"R3","k":2.07,"e":-3.4},{"p":"c","b":"R3","k":2.34,"e":-3.27},{"p":"c","b":"R3","k":2.75,"e":-3.2},{"p":"c","b":"R3","k":3.08,"e":-3.17},{"p":"c","b":"R3","k":3.414,"e":-3.14},
{"p":"c","b":"R4","k":1.9,"e":-3.62},{"p":"c","b":"R4","k":2.2,"e":-3.52},{"p":"c","b":"R4","k":2.5,"e":-3.53},{"p":"c","b":"R4","k":2.9,"e":-3.6},{"p":"c","b":"R4","k":3.414,"e":-3.55},
{"p":"c","b":"S1","k":2.2,"e":-4.4},{"p":"c","b":"S1","k":2.414,"e":-4.0},{"p":"c","b":"S1","k":2.75,"e":-3.3},{"p":"c","b":"S1","k":3.08,"e":-2.78},{"p":"c","b":"S1","k":3.414,"e":-2.2},
{"p":"c","b":"S2","k":2.35,"e":-4.4},{"p":"c","b":"S2","k":2.5,"e":-4.05},{"p":"c","b":"S2","k":2.75,"e":-3.5},{"p":"c","b":"S2","k":3.08,"e":-2.95},{"p":"c","b":"S2","k":3.414,"e":-2.32},
{"p":"c","b":"S3","k":2.55,"e":-4.4},{"p":"c","b":"S3","k":2.75,"e":-3.72},{"p":"c","b":"S3","k":3.08,"e":-3.12},{"p":"c","b":"S3","k":3.414,"e":-2.45},
{"p":"c","b":"S4","k":2.72,"e":-4.4},{"p":"c","b":"S4","k":2.9,"e":-3.8},{"p":"c","b":"S4","k":3.08,"e":-3.3},{"p":"c","b":"S4","k":3.414,"e":-2.6},
{"p":"c","b":"B1","k":0,"e":-3.16},{"p":"c","b":"B1","k":0.35,"e":-3.18},{"p":"c","b":"B1","k":0.7,"e":-3.22},{"p":"c","b":"B1","k":1.05,"e":-3.3},
{"p":"c","b":"B2","k":0,"e":-3.45},{"p":"c","b":"B2","k":0.35,"e":-3.45},{"p":"c","b":"B2","k":0.7,"e":-3.48},{"p":"c","b":"B2","k":1.05,"e":-3.55},
{"p":"c","b":"B3","k":0,"e":-4.08},{"p":"c","b":"B3","k":0.35,"e":-4.1},{"p":"c","b":"B3","k":0.7,"e":-4.15},{"p":"c","b":"B3","k":1.05,"e":-4.2},{"p":"c","b":"B3","k":1.414,"e":-4.28},{"p":"c","b":"B3","k":1.75,"e":-4.25},{"p":"c","b":"B3","k":2.08,"e":-4.2},{"p":"c","b":"B3","k":2.414,"e":-4.15},{"p":"c","b":"B3","k":2.75,"e":-4.1},{"p":"c","b":"B3","k":3.08,"e":-4.12},{"p":"c","b":"B3","k":3.414,"e":-4.15},
{"p":"c","b":"B4","k":0,"e":-4.25},{"p":"c","b":"B4","k":0.35,"e":-4.35},{"p":"c","b":"B4","k":0.7,"e":-4.4},{"p":"c","b":"B4","k":1.05,"e":-4.42},{"p":"c","b":"B4","k":1.414,"e":-4.44},{"p":"c","b":"B4","k":1.75,"e":-4.42},{"p":"c","b":"B4","k":2.08,"e":-4.38},{"p":"c","b":"B4","k":2.414,"e":-4.35},{"p":"c","b":"B4","k":2.75,"e":-4.32},{"p":"c","b":"B4","k":3.08,"e":-4.3},{"p":"c","b":"B4","k":3.414,"e":-4.3},
{"p":"c","b":"X1","k":0.2,"e":-4.45},{"p":"c","b":"X1","k":0.5,"e":-4.2},{"p":"c","b":"X1","k":0.8,"e":-3.95},{"p":"c","b":"X1","k":1.05,"e":-3.75},{"p":"c","b":"X1","k":1.25,"e":-3.62},
{"p":"c","b":"W1","k":1.6,"e":-3.9},{"p":"c","b":"W1","k":1.9,"e":-3.95},{"p":"c","b":"W1","k":2.2,"e":-4.0},{"p":"c","b":"W1","k":2.5,"e":-3.95},{"p":"c","b":"W1","k":2.8,"e":-3.9},{"p":"c","b":"W1","k":3.1,"e":-3.88},{"p":"c","b":"W1","k":3.414,"e":-3.85},
{"p":"c","b":"W2","k":1.6,"e":-3.32},{"p":"c","b":"W2","k":1.9,"e":-3.35},{"p":"c","b":"W2","k":2.2,"e":-3.42},{"p":"c","b":"W2","k":2.5,"e":-3.4},{"p":"c","b":"W2","k":2.8,"e":-3.35},{"p":"c","b":"W2","k":3.1,"e":-3.32},{"p":"c","b":"W2","k":3.414,"e":-3.3},
{"p":"c","b":"L1","k":0,"e":-3.3},{"p":"c","b":"L1","k":0.35,"e":-3.32},{"p":"c","b":"L1","k":0.7,"e":-3.38},{"p":"c","b":"L1","k":1.0,"e":-3.45},
{"p":"c","b":"L2","k":0,"e":-3.57},{"p":"c","b":"L2","k":0.35,"e":-3.6},{"p":"c","b":"L2","k":0.7,"e":-3.66},{"p":"c","b":"L2","k":1.0,"e":-3.72},
{"p":"c","b":"C1","k":1.15,"e":0.38},{"p":"c","b":"C1","k":1.3,"e":0.32},{"p":"c","b":"C1","k":1.414,"e":0.3},{"p":"c","b":"C1","k":1.55,"e":0.33},{"p":"c","b":"C1","k":1.66,"e":0.34},{"p":"c","b":"C1","k":1.93,"e":0.39},{"p":"c","b":"C1","k":2.13,"e":0.46},{"p":"c","b":"C1","k":2.3,"e":0.5},{"p":"c","b":"C1","k":2.55,"e":0.55},{"p":"c","b":"C1","k":2.65,"e":0.66},
{"p":"c","b":"C2","k":1.72,"e":0.19},{"p":"c","b":"C2","k":2.07,"e":0.32},{"p":"c","b":"C2","k":2.34,"e":0.36},{"p":"c","b":"C2","k":2.5,"e":0.39},{"p":"c","b":"C2","k":2.6,"e":0.45},
{"p":"c","b":"C3","k":1.43,"e":-0.26},{"p":"c","b":"C3","k":1.72,"e":-0.22},{"p":"c","b":"C3","k":1.93,"e":-0.15},{"p":"c","b":"C3","k":2.2,"e":-0.08},{"p":"c","b":"C3","k":2.5,"e":-0.02},{"p":"c","b":"C3","k":2.56,"e":0.09},{"p":"c","b":"C3","k":2.6,"e":0.28},{"p":"c","b":"C3","k":2.65,"e":0.5},{"p":"c","b":"C3","k":2.69,"e":0.64},{"p":"c","b":"C3","k":2.75,"e":0.77},{"p":"c","b":"C3","k":2.82,"e":0.96},
{"p":"c","b":"C4","k":2.6,"e":0.45},{"p":"c","b":"C4","k":2.66,"e":0.62},{"p":"c","b":"C4","k":2.72,"e":0.8},{"p":"c","b":"C4","k":2.78,"e":0.97},
{"p":"c","b":"d","k":1.39,"e":-1.8},{"p":"c","b":"d","k":1.45,"e":-1.77},{"p":"c","b":"d","k":1.35,"e":-1.74},{"p":"c","b":"d","k":1.51,"e":-1.7},{"p":"c","b":"d","k":1.26,"e":-1.61},{"p":"c","b":"d","k":1.57,"e":-1.59},{"p":"c","b":"d","k":1.2,"e":-1.43},{"p":"c","b":"d","k":1.61,"e":-1.46},{"p":"c","b":"d","k":1.14,"e":-1.2},{"p":"c","b":"d","k":1.26,"e":-1.24},{"p":"c","b":"d","k":1.35,"e":-1.34},{"p":"c","b":"d","k":1.41,"e":-1.39},{"p":"c","b":"d","k":1.47,"e":-1.36},{"p":"c","b":"d","k":1.51,"e":-1.32},{"p":"c","b":"d","k":1.57,"e":-1.23},{"p":"c","b":"d","k":1.66,"e":-1.28},{"p":"c","b":"d","k":1.2,"e":-1.08},{"p":"c","b":"d","k":1.61,"e":-1.12},{"p":"c","b":"d","k":1.7,"e":-1.08},{"p":"c","b":"d","k":1.06,"e":-0.96},{"p":"c","b":"d","k":1.14,"e":-0.88},{"p":"c","b":"d","k":1.66,"e":-0.97},{"p":"c","b":"d","k":1.78,"e":-0.88},{"p":"c","b":"d","k":1.72,"e":-0.81},{"p":"c","b":"d","k":0.99,"e":-0.72},{"p":"c","b":"d","k":1.06,"e":-0.64},{"p":"c","b":"d","k":1.78,"e":-0.64},{"p":"c","b":"d","k":1.82,"e":-0.66},{"p":"c","b":"d","k":0.93,"e":-0.49},{"p":"c","b":"d","k":0.89,"e":-0.31},{"p":"c","b":"d","k":0.83,"e":-0.15},{"p":"c","b":"d","k":0.72,"e":0.05},{"p":"c","b":"d","k":0.68,"e":0.22},{"p":"c","b":"d","k":0.58,"e":0.43},{"p":"c","b":"d","k":0.58,"e":0.62},{"p":"c","b":"d","k":0.52,"e":0.82},{"p":"c","b":"d","k":0.48,"e":0.93},{"p":"c","b":"d","k":1.86,"e":-0.44},{"p":"c","b":"d","k":1.86,"e":-0.31},{"p":"c","b":"d","k":1.88,"e":-0.12},{"p":"c","b":"d","k":1.93,"e":0.05},{"p":"c","b":"d","k":1.2,"e":0.25},{"p":"c","b":"d","k":1.3,"e":0.15},{"p":"c","b":"d","k":1.35,"e":0.05},{"p":"c","b":"d","k":1.25,"e":-0.05},{"p":"c","b":"d","k":1.3,"e":-0.15},{"p":"c","b":"d","k":1.4,"e":-0.1},{"p":"c","b":"d","k":1.45,"e":0.1},{"p":"c","b":"d","k":1.5,"e":0.2},{"p":"c","b":"d","k":1.55,"e":-0.05},{"p":"c","b":"d","k":1.35,"e":-0.3},{"p":"c","b":"d","k":1.45,"e":-0.38},{"p":"c","b":"d","k":1.4,"e":-0.45},{"p":"c","b":"d","k":1.5,"e":-0.5},{"p":"c","b":"d","k":1.3,"e":-0.55},{"p":"c","b":"d","k":1.6,"e":0.05},{"p":"c","b":"d","k":1.2,"e":0.45},{"p":"c","b":"d","k":1.0,"e":0.55},{"p":"c","b":"d","k":0.95,"e":0.2},{"p":"c","b":"d","k":1.05,"e":-0.1},{"p":"c","b":"d","k":0.64,"e":0.62},{"p":"c","b":"d","k":0.68,"e":0.53},{"p":"c","b":"d","k":0.74,"e":0.73},{"p":"c","b":"d","k":0.83,"e":0.62},{"p":"c","b":"d","k":0.89,"e":0.53},{"p":"c","b":"d","k":0.95,"e":0.46},{"p":"c","b":"d","k":1.04,"e":0.36},{"p":"c","b":"d","k":0.52,"e":0.97},{"p":"c","b":"d","k":0.62,"e":0.97},{"p":"c","b":"d","k":0.72,"e":0.98},{"p":"c","b":"d","k":0.82,"e":0.97},{"p":"c","b":"d","k":0.92,"e":0.97},{"p":"c","b":"d","k":1.05,"e":0.9},{"p":"c","b":"d","k":1.05,"e":0.8},{"p":"c","b":"d","k":1.08,"e":0.7},{"p":"c","b":"d","k":1.78,"e":0.95},{"p":"c","b":"d","k":1.8,"e":0.85},{"p":"c","b":"d","k":1.84,"e":0.75},{"p":"c","b":"d","k":1.86,"e":0.65},{"p":"c","b":"d","k":1.95,"e":0.85},{"p":"c","b":"d","k":2.0,"e":0.78},{"p":"c","b":"d","k":2.1,"e":0.7}
]},
"hconcat":[
{"width":165,"height":407,"title":{"text":"1LaTiO₃/7SrTiO₃","dx":-5},
 "resolve":{"axis":{"x":"independent","y":"independent"}},
 "layer":[
  {"transform":[{"filter":"datum.p=='a' && datum.b!='d'"}],
   "mark":{"type":"line","color":"black","strokeWidth":3.8,"interpolate":"monotone","clip":true},
   "encoding":{
    "x":{"field":"k","type":"quantitative","scale":{"domain":[0,3.414],"nice":false,"zero":false},"axis":{"orient":"bottom","values":[0,1.414,2.414,3.414],"ticks":false,"labelPadding":1,"labelFontSize":18,"labelFlush":false,"labelOverlap":false,"labelExpr":"datum.value < 0.5 || datum.value > 3 ? 'M' : datum.value < 2 ? 'Γ' : 'X'","labelFont":{"condition":{"test":"datum.value > 1 && datum.value < 2","value":"Liberation Serif"},"value":"Liberation Sans"},"title":null}},
    "y":{"field":"e","type":"quantitative","scale":{"domain":[-4.5,1],"nice":false,"zero":false},"axis":{"orient":"left","values":[-4,-3,-2,-1,0,1],"ticks":false,"labelPadding":{"condition":{"test":"datum.value == 0","value":11},"value":4},"labelFontSize":{"condition":{"test":"datum.value == 0","value":18},"value":16},"labelExpr":"datum.value == 0 ? 'E' : datum.value > 0 ? '1' : '-' + (-datum.value)","labelFontStyle":{"condition":{"test":"datum.value == 0","value":"italic"},"value":"normal"},"title":"Energy [eV]","titleFontSize":20,"titleFontWeight":"normal","titlePadding":8}},
    "detail":{"field":"b","type":"nominal"}}},
  {"transform":[{"filter":"datum.p=='a' && datum.b=='d'"}],
   "mark":{"type":"circle","color":"black","size":16,"opacity":1,"clip":true},
   "encoding":{
    "x":{"field":"k","type":"quantitative","scale":{"domain":[0,3.414],"nice":false,"zero":false},"axis":{"orient":"top","values":[1.414,2.414],"labels":false,"tickSize":-7,"title":null}},
    "y":{"field":"e","type":"quantitative","scale":{"domain":[-4.5,1],"nice":false,"zero":false},"axis":{"orient":"right","values":[-4,-3.5,-3,-2.5,-2,-1.5,-1,-0.5,0,0.5],"labels":false,"tickSize":{"condition":{"test":"datum.value % 1 == 0","value":-11},"value":-6},"title":null}}}},
  {"data":{"values":[{}]},"mark":{"type":"rule","color":"black","strokeWidth":1,"strokeDash":[1,2]},
   "encoding":{"x":{"datum":1.414,"type":"quantitative","scale":{"domain":[0,3.414],"nice":false,"zero":false},"axis":{"orient":"bottom","values":[1.414,2.414],"labels":false,"tickSize":-7,"title":null}}}},
  {"data":{"values":[{}]},"mark":{"type":"rule","color":"black","strokeWidth":1,"strokeDash":[3,2]},
   "encoding":{"y":{"datum":0,"type":"quantitative","scale":{"domain":[-4.5,1],"nice":false,"zero":false},"axis":{"orient":"left","values":[-4,-3.5,-3,-2.5,-2,-1.5,-1,-0.5,0,0.5],"labels":false,"tickSize":{"condition":{"test":"datum.value % 1 == 0","value":-11},"value":-6},"title":null}}}},
  {"data":{"values":[{}]},"mark":{"type":"text","text":"F","font":"Liberation Sans","fontSize":12,"align":"right","baseline":"middle","dx":-4,"dy":9,"color":"black"},
   "encoding":{"x":{"datum":0,"type":"quantitative","scale":{"domain":[0,3.414],"nice":false,"zero":false},"axis":null},"y":{"datum":0,"type":"quantitative","scale":{"domain":[-4.5,1],"nice":false,"zero":false},"axis":null}}},
  {"data":{"values":[{}]},"mark":{"type":"text","text":"a)","font":"Liberation Sans","fontSize":15,"fontWeight":"bold","align":"left","baseline":"top","dx":4,"dy":11,"color":"black"},
   "encoding":{"x":{"datum":0,"type":"quantitative","scale":{"domain":[0,3.414],"nice":false,"zero":false},"axis":null},"y":{"datum":1,"type":"quantitative","scale":{"domain":[-4.5,1],"nice":false,"zero":false},"axis":null}}}
 ]},
{"width":165,"height":407,"title":{"text":"1LaNbO₃/7KNbO₃"},
 "resolve":{"axis":{"x":"independent","y":"independent"}},
 "layer":[
  {"transform":[{"filter":"datum.p=='b' && datum.b!='d'"}],
   "mark":{"type":"line","color":"black","strokeWidth":3.8,"interpolate":"monotone","clip":true},
   "encoding":{
    "x":{"field":"k","type":"quantitative","scale":{"domain":[0,3.414],"nice":false,"zero":false},"axis":{"orient":"bottom","values":[0,1.414,2.414,3.414],"ticks":false,"labelPadding":1,"labelFontSize":18,"labelFlush":false,"labelOverlap":false,"labelExpr":"datum.value < 0.5 || datum.value > 3 ? 'M' : datum.value < 2 ? 'Γ' : 'X'","labelFont":{"condition":{"test":"datum.value > 1 && datum.value < 2","value":"Liberation Serif"},"value":"Liberation Sans"},"title":null}},
    "y":{"field":"e","type":"quantitative","scale":{"domain":[-4.5,1],"nice":false,"zero":false},"axis":null},
    "detail":{"field":"b","type":"nominal"}}},
  {"transform":[{"filter":"datum.p=='b' && datum.b=='d'"}],
   "mark":{"type":"circle","color":"black","size":16,"opacity":1,"clip":true},
   "encoding":{
    "x":{"field":"k","type":"quantitative","scale":{"domain":[0,3.414],"nice":false,"zero":false},"axis":{"orient":"top","values":[1.414,2.414],"labels":false,"tickSize":-7,"title":null}},
    "y":{"field":"e","type":"quantitative","scale":{"domain":[-4.5,1],"nice":false,"zero":false},"axis":{"orient":"right","values":[-4,-3.5,-3,-2.5,-2,-1.5,-1,-0.5,0,0.5],"labels":false,"tickSize":{"condition":{"test":"datum.value % 1 == 0","value":-11},"value":-6},"title":null}}}},
  {"data":{"values":[{}]},"mark":{"type":"rule","color":"black","strokeWidth":1,"strokeDash":[1,2]},
   "encoding":{"x":{"datum":1.414,"type":"quantitative","scale":{"domain":[0,3.414],"nice":false,"zero":false},"axis":{"orient":"bottom","values":[1.414,2.414],"labels":false,"tickSize":-7,"title":null}}}},
  {"data":{"values":[{}]},"mark":{"type":"rule","color":"black","strokeWidth":1,"strokeDash":[3,2]},
   "encoding":{"y":{"datum":0,"type":"quantitative","scale":{"domain":[-4.5,1],"nice":false,"zero":false},"axis":{"orient":"left","values":[-4,-3.5,-3,-2.5,-2,-1.5,-1,-0.5,0,0.5],"labels":false,"tickSize":{"condition":{"test":"datum.value % 1 == 0","value":-11},"value":-6},"title":null}}}},
  {"data":{"values":[{}]},"mark":{"type":"text","text":"b)","font":"Liberation Sans","fontSize":15,"fontWeight":"bold","align":"left","baseline":"top","dx":4,"dy":11,"color":"black"},
   "encoding":{"x":{"datum":0,"type":"quantitative","scale":{"domain":[0,3.414],"nice":false,"zero":false},"axis":null},"y":{"datum":1,"type":"quantitative","scale":{"domain":[-4.5,1],"nice":false,"zero":false},"axis":null}}}
 ]},
{"width":165,"height":407,"title":{"text":"1LaTaO₃/7KTaO₃","dx":15},
 "resolve":{"axis":{"x":"independent","y":"independent"}},
 "layer":[
  {"transform":[{"filter":"datum.p=='c' && datum.b!='d'"}],
   "mark":{"type":"line","color":"black","strokeWidth":3.8,"interpolate":"monotone","clip":true},
   "encoding":{
    "x":{"field":"k","type":"quantitative","scale":{"domain":[0,3.414],"nice":false,"zero":false},"axis":{"orient":"bottom","values":[0,1.414,2.414,3.414],"ticks":false,"labelPadding":1,"labelFontSize":18,"labelFlush":false,"labelOverlap":false,"labelExpr":"datum.value < 0.5 || datum.value > 3 ? 'M' : datum.value < 2 ? 'Γ' : 'X'","labelFont":{"condition":{"test":"datum.value > 1 && datum.value < 2","value":"Liberation Serif"},"value":"Liberation Sans"},"title":null}},
    "y":{"field":"e","type":"quantitative","scale":{"domain":[-4.5,1],"nice":false,"zero":false},"axis":null},
    "detail":{"field":"b","type":"nominal"}}},
  {"transform":[{"filter":"datum.p=='c' && datum.b=='d'"}],
   "mark":{"type":"circle","color":"black","size":16,"opacity":1,"clip":true},
   "encoding":{
    "x":{"field":"k","type":"quantitative","scale":{"domain":[0,3.414],"nice":false,"zero":false},"axis":{"orient":"top","values":[1.414,2.414],"labels":false,"tickSize":-7,"title":null}},
    "y":{"field":"e","type":"quantitative","scale":{"domain":[-4.5,1],"nice":false,"zero":false},"axis":{"orient":"right","values":[-4,-3.5,-3,-2.5,-2,-1.5,-1,-0.5,0,0.5],"labels":false,"tickSize":{"condition":{"test":"datum.value % 1 == 0","value":-11},"value":-6},"title":null}}}},
  {"data":{"values":[{}]},"mark":{"type":"rule","color":"black","strokeWidth":1,"strokeDash":[1,2]},
   "encoding":{"x":{"datum":1.414,"type":"quantitative","scale":{"domain":[0,3.414],"nice":false,"zero":false},"axis":{"orient":"bottom","values":[1.414,2.414],"labels":false,"tickSize":-7,"title":null}}}},
  {"data":{"values":[{}]},"mark":{"type":"rule","color":"black","strokeWidth":1,"strokeDash":[3,2]},
   "encoding":{"y":{"datum":0,"type":"quantitative","scale":{"domain":[-4.5,1],"nice":false,"zero":false},"axis":{"orient":"left","values":[-4,-3.5,-3,-2.5,-2,-1.5,-1,-0.5,0,0.5],"labels":false,"tickSize":{"condition":{"test":"datum.value % 1 == 0","value":-11},"value":-6},"title":null}}}},
  {"data":{"values":[{}]},"mark":{"type":"text","text":"c)","font":"Liberation Sans","fontSize":15,"fontWeight":"bold","align":"left","baseline":"top","dx":4,"dy":11,"color":"black"},
   "encoding":{"x":{"datum":0,"type":"quantitative","scale":{"domain":[0,3.414],"nice":false,"zero":false},"axis":null},"y":{"datum":1,"type":"quantitative","scale":{"domain":[-4.5,1],"nice":false,"zero":false},"axis":null}}}
 ]}
]
}
